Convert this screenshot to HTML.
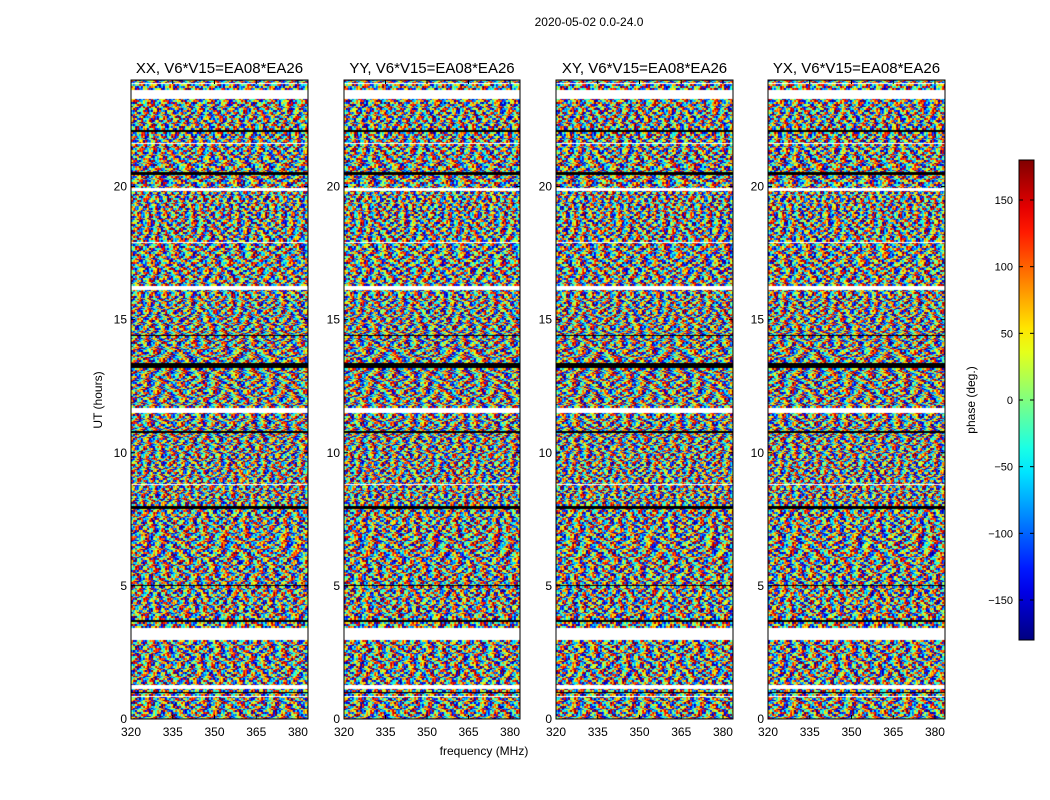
<!DOCTYPE html>
<html><head><meta charset="utf-8">
<style>
body{margin:0;background:#fff;font-family:"Liberation Sans","DejaVu Sans",sans-serif;}
#wrap{position:relative;width:1050px;height:800px;overflow:hidden;}
svg{position:absolute;left:0;top:0;}
canvas{position:absolute;}
</style></head>
<body>
<div id="wrap">
<canvas id="p0" width="177" height="639" style="left:131px;top:80px"></canvas>
<canvas id="p1" width="176" height="639" style="left:344px;top:80px"></canvas>
<canvas id="p2" width="177" height="639" style="left:556px;top:80px"></canvas>
<canvas id="p3" width="177" height="639" style="left:768px;top:80px"></canvas>
<svg id="svg" width="1050" height="800"></svg>
</div>
<script>
// ---- data ----
const panelTitles = ["XX, V6*V15=EA08*EA26","YY, V6*V15=EA08*EA26","XY, V6*V15=EA08*EA26","YX, V6*V15=EA08*EA26"];
const xTicks = [320,335,350,365,380];
const yTicks = [0,5,10,15,20];
const cbTicks = [-150,-100,-50,0,50,100,150];
// per-hour base phase and fringe rate (deg per MHz)
const hourBase = [40,-60,10,-120,90,-30,150,-90,20,-140,60,-10,110,-70,30,-160,80,0,-100,50,-40,130,-20,70];
const hourRate = [55,70,60,45,80,65,50,75,90,85,70,60,55,45,65,75,60,50,70,85,40,65,70,50];
const rowJitter = [0,130,-80,170,40,-150,95,-20,-110,60,150,-60,20,-170,110];
const panelOffset = [0,45,-60,100];
// flagged (white) and dark intervals in UT hours
const whiteBands = [[23.3,23.65],[23.85,23.9],[19.85,19.95],[16.15,16.3],[11.5,11.7],[3.0,3.45],[1.15,1.3],[0.85,0.9],[21.6,21.65],[17.9,17.95],[8.8,8.85]];
const darkBands = [[22.05,22.15],[20.45,20.55],[13.2,13.4],[10.75,10.85],[7.9,8.0],[3.65,3.75],[1.0,1.05],[14.4,14.45],[5.0,5.05]];

// ---- axes ----
const plotTop=80, plotBot=719, hPerPx = 24/639;
const panelsX=[[131,308],[344,520],[556,733],[768,945]];
function yOf(h){return plotBot-(h/24)*639;}
function xOf(p,f){const a=panelsX[p][0],b=panelsX[p][1];return a+(f-320)/(383.6-320)*(b-a);}
function jet(v){
  const r=Math.max(0,Math.min(1,1.5-Math.abs(4*v-3)));
  const g=Math.max(0,Math.min(1,1.5-Math.abs(4*v-2)));
  const b=Math.max(0,Math.min(1,1.5-Math.abs(4*v-1)));
  return [Math.round(r*255),Math.round(g*255),Math.round(b*255)];
}
function wrapPh(p){p=((p+180)%360+360)%360;return p-180;}

for(let p=0;p<4;p++){
  try{
  const c=document.getElementById('p'+p),ctx=c.getContext('2d');
  const W=c.width,H=c.height,img=ctx.createImageData(W,H);
  for(let y=0;y<H;y++){
    const h=(H-y)*hPerPx;
    const hi=Math.min(23,Math.floor(h));
    const ri=Math.floor(h*10)%rowJitter.length;
    const base=hourBase[hi]+rowJitter[ri]+panelOffset[p];
    const rate=hourRate[hi]*(1+(ri%3)*0.3);
    let white=false,dark=false;
    for(const bd of whiteBands) if(h>=bd[0]&&h<=bd[1]) white=true;
    for(const bd of darkBands) if(h>=bd[0]&&h<=bd[1]) dark=true;
    for(let x=0;x<W;x++){
      const f=320+x/W*63.6;
      const cx=Math.floor(x/2);
      const ph=wrapPh(base+rate*(f-320)+rowJitter[(cx+ri)%rowJitter.length]*((y>>1)%2?0.6:-0.4));
      let col=jet((ph+180)/360);
      if(white) col=[255,255,255];
      if(dark) col=[0,0,0];
      const i=(y*W+x)*4;
      img.data[i]=col[0];img.data[i+1]=col[1];img.data[i+2]=col[2];img.data[i+3]=255;
    }
  }
  ctx.putImageData(img,0,0);
  }catch(e){}
}

const svg=document.getElementById('svg');
const NS='http://www.w3.org/2000/svg';
function el(tag,attrs,txt){const e=document.createElementNS(NS,tag);for(const k in attrs)e.setAttribute(k,attrs[k]);if(txt!==undefined)e.textContent=txt;svg.appendChild(e);return e;}

let t=el('text',{x:589,y:26,'font-size':12,'text-anchor':'middle'},'2020-05-02 0.0-24.0');



for(let p=0;p<4;p++){
  const a=panelsX[p][0],b=panelsX[p][1];
  let r=el('rect',{x:a,y:plotTop,width:b-a,height:plotBot-plotTop,fill:'none',stroke:'#000','stroke-width':1});
  
  
  let tt=el('text',{x:(a+b)/2,y:73,'font-size':15,'text-anchor':'middle'},panelTitles[p]);
  
  
  for(const f of xTicks){
    const x=xOf(p,f);
    el('line',{x1:x,x2:x,y1:plotBot,y2:plotBot-4,stroke:'#000'});
    el('line',{x1:x,x2:x,y1:plotTop,y2:plotTop+4,stroke:'#000'});
    let lt=el('text',{x:x,y:736,'font-size':12,'text-anchor':'middle'},f);
    
    
  }
  for(const h of yTicks){
    const y=yOf(h);
    el('line',{x1:a,x2:a+4,y1:y,y2:y,stroke:'#000'});
    el('line',{x1:b,x2:b-4,y1:y,y2:y,stroke:'#000'});
    let lt=el('text',{x:a-4,y:y+4,'font-size':12,'text-anchor':'end'},h);
    
    
  }
}
let xl=el('text',{x:484,y:755,'font-size':12,'text-anchor':'middle'},'frequency (MHz)');


let yl=el('text',{x:0,y:0,'font-size':12,'text-anchor':'middle',transform:'translate(102,400) rotate(-90)'},'UT (hours)');



// colorbar
const cbx=1019,cbw=15,cbTop=160,cbBot=640;
const defs=el('defs',{});
const lg=document.createElementNS(NS,'linearGradient');
lg.setAttribute('id','jetg');lg.setAttribute('x1','0');lg.setAttribute('y1','1');lg.setAttribute('x2','0');lg.setAttribute('y2','0');
defs.appendChild(lg);
for(let i=0;i<=20;i++){const c=jet(i/20);const s=document.createElementNS(NS,'stop');s.setAttribute('offset',i/20);s.setAttribute('stop-color','rgb('+c.join(',')+')');lg.appendChild(s);}
let cb=el('rect',{x:cbx,y:cbTop,width:cbw,height:cbBot-cbTop,fill:'url(#jetg)',stroke:'#000','stroke-width':1});


function cbY(v){return cbBot-(v+180)/360*(cbBot-cbTop);}
for(const v of cbTicks){
  const y=cbY(v);
  el('line',{x1:cbx,x2:cbx+4,y1:y,y2:y,stroke:'#000'});
  el('line',{x1:cbx+cbw,x2:cbx+cbw-4,y1:y,y2:y,stroke:'#000'});
  let lt=el('text',{x:1013,y:y+4,'font-size':11,'text-anchor':'end'},v<0?'\u2212'+(-v):String(v));
  
  
}
let cl=el('text',{x:0,y:0,'font-size':12,'text-anchor':'middle',transform:'translate(975,400) rotate(-90)'},'phase (deg.)');


</script>
</body></html>
